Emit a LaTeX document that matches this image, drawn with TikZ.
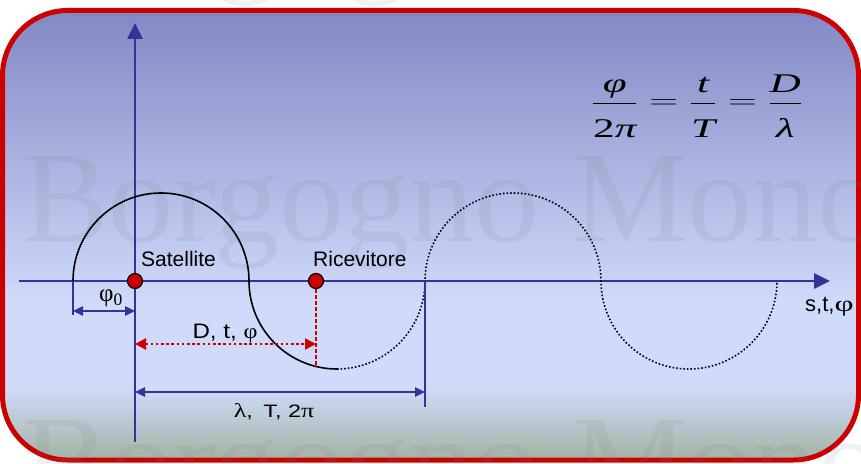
\documentclass[tikz,border=0pt]{standalone}
\usepackage{fontspec}
\setmainfont{Liberation Sans}
\newfontfamily\tnr{Liberation Serif}
\usetikzlibrary{arrows.meta}

\definecolor{axblue}{RGB}{51,51,153}
\definecolor{satred}{RGB}{204,0,0}
\definecolor{bgtop}{RGB}{130,136,196}
\definecolor{bgmid}{RGB}{208,218,250}
\definecolor{bgbot}{RGB}{160,178,160}

\begin{document}
\begin{tikzpicture}[x=1pt, y=1pt,
  ax/.style={axblue, line width=2.8pt, -{Triangle[length=16pt, width=15pt]}},
  tk/.style={axblue, line width=2.4pt},
  dm/.style={axblue, line width=2.4pt, {Triangle[length=10pt, width=9pt]}-{Triangle[length=10pt, width=9pt]}},
  rdm/.style={satred, line width=2.6pt, dash pattern=on 2.6pt off 2.6pt, {Triangle[length=11pt, width=11pt]}-{Triangle[length=11pt, width=11pt]}},
  rdash/.style={satred, line width=2pt, dash pattern=on 4pt off 2pt},
  wv/.style={black, line width=1.6pt},
  wvd/.style={black, line width=1.6pt, dash pattern=on 1.6pt off 2pt},
  pt/.style={circle, draw=black, line width=1.2pt, fill=satred, minimum size=15pt, inner sep=0pt},
  lbl/.style={font=\fontsize{21}{24}\selectfont, inner sep=0pt},
  wm/.style={font=\tnr\fontsize{130}{130}\selectfont, text=gray, text opacity=0.12, anchor=base west, inner sep=0pt}]

\useasboundingbox (0,0) rectangle (861,463);

% ---- panel with gradient and red frame ----
\begin{scope}
  \clip[rounded corners=65pt] (2.5,3) rectangle (858.5,452.5);
  \shade[top color=bgtop, bottom color=bgmid] (0,160) rectangle (861,453);
  \fill[bgmid] (0,75) rectangle (861,160.5);
  \shade[top color=bgmid, bottom color=bgbot] (0,0) rectangle (861,75.5);
\end{scope}
\draw[satred, line width=5pt, rounded corners=65pt] (2.5,3) rectangle (858.5,452.5);

% ---- watermark ----
\foreach \wy [count=\i] in {484,221,-42}
  \node[wm] (wm\i) at (22,\wy) {Borgogno Mono};

% ---- axes ----
\coordinate (xl) at (19,182);
\coordinate (xr) at (830,182);
\coordinate (yb) at (135,21);
\coordinate (yt) at (135,440);
\draw[ax] (xl) -- (xr);
\draw[ax] (yb) -- (yt);

% ---- wave: solid up to the receiver, dotted after ----
\coordinate (w0) at (73,182);
\coordinate (w2) at (425,182);
\draw[wv] (w0) arc[start angle=180, end angle=0, radius=88pt]
  arc[start angle=180, end angle=270, radius=88pt] coordinate (wb);
\draw[wvd] (wb) arc[start angle=270, end angle=360, radius=88pt]
  arc[start angle=180, end angle=0, radius=88pt]
  arc[start angle=180, end angle=360, radius=88pt];

% ---- dimension lines ----
\coordinate (t0) at (73,148);
\coordinate (t2) at (425,56);
\draw[tk] (w0) -- (t0);
\draw[tk] (w2) -- (t2);
\coordinate (a0) at (73,152);
\coordinate (a1) at (135,152);
\draw[dm] (a0) -- (a1);
\coordinate (l0) at (135,71);
\coordinate (l1) at (425,71);
\draw[dm] (l0) -- (l1);

% ---- satellite / receiver ----
\node[pt] (sat) at (135,182) {};
\node[pt] (ric) at (316,182) {};
\coordinate (rb) at (316,97);
\draw[rdash] (ric) -- (rb);
\coordinate (d0) at (135,119);
\coordinate (d1) at (316,119);
\draw[rdm] (d0) -- (d1);

% ---- labels ----
\node[lbl, anchor=base west] (satl) at (141,196) {Satellite};
\node[lbl, anchor=base west] (ricl) at (313,196) {Ricevitore};
\node[lbl, anchor=base west, font=\fontsize{22}{24}\selectfont] (axl) at (805,151) {s,t,\scalebox{1.5}[1]{\tnr φ}};
\node[lbl, anchor=base, font=\fontsize{25}{26}\selectfont] (phl) at (111,161) {{\tnr φ\textsubscript{0}}};
\node[lbl, anchor=base] (dl) at (225,124) {\scalebox{1.15}[1]{D, t, {\tnr φ}}};
\node[lbl, anchor=base, font=\fontsize{18}{20}\selectfont] (ll) at (274,46)
  {\scalebox{1.3}[1]{{\tnr\fontsize{20}{20}\selectfont λ},\hspace{8pt}T,\hspace{5pt}2{\tnr\fontsize{20}{20}\selectfont π}}};

% ---- relation ----
\node[inner sep=0pt, anchor=base, font=\fontsize{27}{30}\selectfont] (eq) at (697,354)
  {\scalebox{1.6}[1]{$\displaystyle\frac{\mbox{\tnr\itshape φ}}{\mbox{\tnr\rule{0pt}{33pt}2\itshape π}}
  = \frac{\mbox{\tnr\itshape t}}{\mbox{\tnr\itshape\rule{0pt}{33pt}T}}
  = \frac{\mbox{\tnr\itshape D}}{\mbox{\tnr\itshape\rule{0pt}{33pt}λ}}$}};
\end{tikzpicture}
\end{document}
